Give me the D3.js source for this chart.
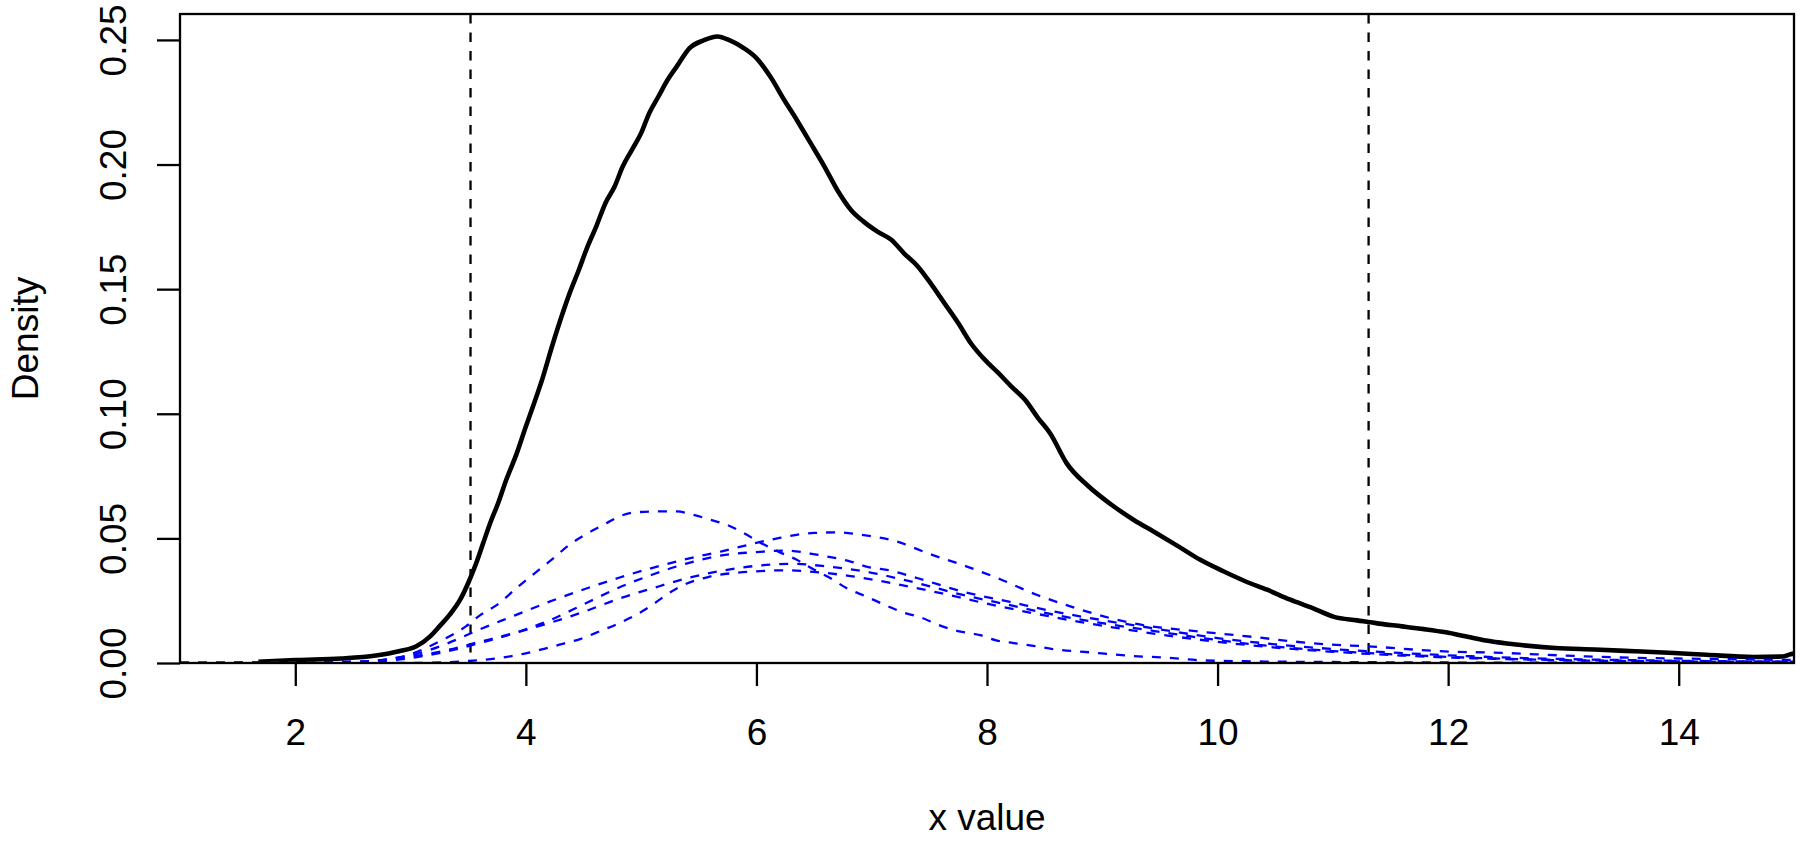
<!DOCTYPE html>
<html>
<head>
<meta charset="utf-8">
<script src="https://cdn.jsdelivr.net/npm/d3@7"></script>
<style>
  html, body { margin: 0; padding: 0; background: #ffffff; }
  svg { display: block; }
  text { font-family: "Liberation Sans", Arial, Helvetica, sans-serif; fill: #000; }
</style>
</head>
<body>
<svg id="chart" width="1800" height="843"></svg>
<script>
// ---------------- data ----------------
const xTicks = [2, 4, 6, 8, 10, 12, 14];
const xTickLabels = ["2", "4", "6", "8", "10", "12", "14"];
const yTicks = [0, 0.05, 0.10, 0.15, 0.20, 0.25];
const yTickLabels = ["0.00", "0.05", "0.10", "0.15", "0.20", "0.25"];
const xDomain = [1, 15];
const yDomain = [0, 0.2604];
const cutoffs = [3.52, 11.31];
const xLabel = "x value";
const yLabel = "Density";

// overall density (solid black)
const totalDensity = [
  [1.68,0.0005],[2.0,0.0012],[2.4,0.0018],[2.7,0.0030],[2.9,0.0047],[3.05,0.0067],
  [3.17,0.0107],[3.25,0.0147],[3.34,0.0194],[3.43,0.0254],[3.50,0.0321],[3.57,0.0401],
  [3.63,0.0481],[3.69,0.0561],[3.76,0.0642],[3.83,0.0735],[3.92,0.0840],[4.00,0.0949],
  [4.07,0.1040],[4.15,0.1150],[4.22,0.1260],[4.30,0.1377],[4.38,0.1484],[4.46,0.1578],
  [4.53,0.1665],[4.61,0.1751],[4.69,0.1845],[4.77,0.1912],[4.84,0.1992],[4.92,0.2059],
  [5.00,0.2126],[5.07,0.2206],[5.15,0.2273],[5.23,0.2340],[5.31,0.2394],[5.42,0.2467],
  [5.54,0.2498],[5.66,0.2514],[5.77,0.2498],[5.89,0.2467],[6.00,0.2427],[6.12,0.2353],
  [6.24,0.2260],[6.35,0.2179],[6.47,0.2086],[6.59,0.1992],[6.70,0.1899],[6.82,0.1818],
  [6.93,0.1771],[7.05,0.1731],[7.17,0.1698],[7.28,0.1644],[7.40,0.1591],[7.51,0.1524],
  [7.63,0.1444],[7.75,0.1364],[7.86,0.1283],[7.98,0.1217],[8.10,0.1163],[8.21,0.1110],
  [8.33,0.1056],[8.44,0.0985],[8.55,0.0920],[8.69,0.0802],[8.88,0.0709],[9.08,0.0635],
  [9.27,0.0575],[9.47,0.0521],[9.66,0.0468],[9.85,0.0414],[10.05,0.0368],[10.24,0.0328],
  [10.43,0.0294],[10.63,0.0254],[10.82,0.0221],[11.01,0.0185],[11.21,0.0171],[11.40,0.0158],
  [11.60,0.0147],[11.79,0.0136],[11.98,0.0123],[12.18,0.0104],[12.37,0.0087],[12.59,0.0074],
  [12.93,0.0060],[13.27,0.0054],[13.62,0.0047],[13.96,0.0040],[14.24,0.0033],[14.65,0.0024],
  [14.90,0.0026],[14.97,0.0035],[15.05,0.0040]
];

// component densities (dashed blue)
const componentA = [
  [1.0,0.0],[2.5,0.0003],[2.8,0.0015],[3.0,0.0035],[3.2,0.0075],[3.48,0.0147],[3.61,0.0194],
  [3.74,0.0230],[3.92,0.0301],[4.06,0.0354],[4.24,0.0421],[4.38,0.0475],[4.53,0.0519],
  [4.70,0.0561],[4.81,0.0588],[4.96,0.0605],[5.16,0.0608],[5.31,0.0608],[5.45,0.0595],
  [5.60,0.0575],[5.74,0.0555],[5.88,0.0524],[6.03,0.0484],[6.20,0.0445],[6.35,0.0414],
  [6.49,0.0377],[6.64,0.0341],[6.78,0.0301],[6.95,0.0267],[7.13,0.0230],[7.27,0.0203],
  [7.42,0.0184],[7.59,0.0151],[7.76,0.0127],[7.94,0.0112],[8.08,0.0091],[8.23,0.0080],
  [8.40,0.0069],[8.57,0.0056],[8.89,0.0043],[9.24,0.0029],[9.56,0.0021],[9.85,0.0011],
  [10.24,0.0007],[11.0,0.0004],[12.0,0.0002],[13.0,0.0001],[15.0,0.0]
];
const componentB = [
  [1.0,0.0],[2.5,0.0005],[2.8,0.0015],[3.0,0.0030],[3.3,0.0075],[3.6,0.0135],[3.9,0.0190],
  [4.2,0.0245],[4.5,0.0295],[4.8,0.0341],[5.1,0.0382],[5.4,0.0418],[5.7,0.0448],[6.0,0.0482],
  [6.2,0.0502],[6.5,0.0522],[6.7,0.0524],[6.9,0.0515],[7.2,0.0490],[7.5,0.0438],[7.82,0.0388],
  [8.11,0.0337],[8.43,0.0274],[8.75,0.0223],[9.07,0.0180],[9.38,0.0150],[9.74,0.0131],
  [10.3,0.0105],[10.8,0.0080],[11.4,0.0064],[11.9,0.0048],[12.5,0.0040],[13.0,0.0030],
  [13.5,0.0022],[14.0,0.0018],[14.5,0.0015],[15.0,0.0012]
];
const componentC = [
  [1.0,0.0],[2.6,0.0004],[3.0,0.0020],[3.3,0.0045],[3.6,0.0080],[3.9,0.0120],[4.2,0.0170],
  [4.5,0.0235],[4.8,0.0301],[5.1,0.0355],[5.4,0.0400],[5.7,0.0432],[6.0,0.0445],[6.26,0.0451],
  [6.48,0.0438],[6.64,0.0425],[6.81,0.0408],[6.97,0.0385],[7.13,0.0374],[7.4,0.0340],
  [7.8,0.0285],[8.2,0.0245],[8.6,0.0205],[9.0,0.0172],[9.5,0.0135],[10.0,0.0100],[10.5,0.0075],
  [11.0,0.0056],[11.6,0.0040],[12.2,0.0027],[13.0,0.0016],[14.0,0.0009],[15.0,0.0005]
];
const componentD = [
  [1.0,0.0],[2.6,0.0006],[3.0,0.0025],[3.3,0.0050],[3.6,0.0085],[3.9,0.0120],[4.2,0.0160],
  [4.5,0.0205],[4.8,0.0257],[5.1,0.0300],[5.4,0.0340],[5.7,0.0370],[6.0,0.0390],[6.3,0.0398],
  [6.6,0.0388],[7.0,0.0362],[7.4,0.0320],[7.8,0.0272],[8.2,0.0232],[8.6,0.0192],[9.0,0.0160],
  [9.5,0.0125],[10.0,0.0092],[10.5,0.0066],[11.0,0.0048],[11.6,0.0033],[12.2,0.0021],
  [13.0,0.0011],[14.0,0.0006],[15.0,0.0003]
];
const componentF = [
  [1.0,0.0],[3.0,0.0],[3.5,0.0008],[3.77,0.0020],[3.98,0.0037],[4.15,0.0056],[4.32,0.0077],
  [4.47,0.0096],[4.64,0.0127],[4.81,0.0160],[4.96,0.0194],[5.10,0.0234],[5.22,0.0274],
  [5.34,0.0307],[5.58,0.0345],[5.80,0.0361],[6.0,0.0368],[6.24,0.0372],[6.46,0.0367],
  [6.8,0.0350],[7.2,0.0318],[7.6,0.0280],[8.0,0.0238],[8.4,0.0200],[8.8,0.0165],[9.2,0.0135],
  [9.6,0.0108],[10.0,0.0085],[10.5,0.0062],[11.0,0.0045],[11.6,0.0030],[12.2,0.0019],
  [13.0,0.0012],[14.0,0.0007],[15.0,0.0005]
];
const components = [componentA, componentB, componentC, componentD, componentF];

// ---------------- layout ----------------
const W = 1800, H = 843;
const plot = { left: 180, right: 1794, top: 14, bottom: 663 };
const FONT = 37;
const LW = 2.3;

const svg = d3.select("#chart");
const x = d3.scaleLinear().domain(xDomain).range([plot.left, plot.right]);
const y = d3.scaleLinear().domain(yDomain).range([plot.bottom, plot.top]);

svg.append("defs").append("clipPath").attr("id", "clip")
  .append("rect")
  .attr("x", plot.left).attr("y", plot.top)
  .attr("width", plot.right - plot.left).attr("height", plot.bottom - plot.top);

const g = svg.append("g").attr("clip-path", "url(#clip)");

// vertical cutoff lines
g.selectAll("line.cut").data(cutoffs).enter().append("line")
  .attr("class", "cut")
  .attr("x1", d => x(d)).attr("x2", d => x(d))
  .attr("y1", plot.top).attr("y2", plot.bottom)
  .attr("stroke", "#000").attr("stroke-width", LW)
  .attr("stroke-dasharray", "9.5,9");

const line = d3.line().x(d => x(d[0])).y(d => y(d[1])).curve(d3.curveMonotoneX);

// overall density
g.append("path").datum(totalDensity)
  .attr("d", line)
  .attr("fill", "none").attr("stroke", "#000").attr("stroke-width", 4.6)
  .attr("stroke-linejoin", "round");

// components
g.selectAll("path.comp").data(components).enter().append("path")
  .attr("class", "comp")
  .attr("d", line)
  .attr("fill", "none").attr("stroke", "#0000ff").attr("stroke-width", LW)
  .attr("stroke-dasharray", "9,9");

// box
svg.append("rect")
  .attr("x", plot.left).attr("y", plot.top)
  .attr("width", plot.right - plot.left).attr("height", plot.bottom - plot.top)
  .attr("fill", "none").attr("stroke", "#000").attr("stroke-width", LW);

// x axis
const xAxis = d3.axisBottom(x).tickValues(xTicks)
  .tickFormat((d, i) => xTickLabels[i]).tickSize(23).tickPadding(0);
const gx = svg.append("g").attr("transform", `translate(0,${plot.bottom})`).call(xAxis);
gx.select(".domain").remove();
gx.selectAll(".tick line").attr("stroke", "#000").attr("stroke-width", LW);
gx.selectAll(".tick text")
  .attr("font-size", FONT).attr("dy", null).attr("y", 82)
  .attr("font-family", '"Liberation Sans", Arial, sans-serif');

// y axis
const yAxis = d3.axisLeft(y).tickValues(yTicks)
  .tickFormat((d, i) => yTickLabels[i]).tickSize(23).tickPadding(0);
const gy = svg.append("g").attr("transform", `translate(${plot.left},0)`).call(yAxis);
gy.select(".domain").remove();
gy.selectAll(".tick line").attr("stroke", "#000").attr("stroke-width", LW);
gy.selectAll(".tick text")
  .attr("font-size", FONT)
  .attr("font-family", '"Liberation Sans", Arial, sans-serif')
  .attr("x", null).attr("dy", null)
  .attr("text-anchor", "middle")
  .attr("transform", `translate(${126 - plot.left},0) rotate(-90)`);

// axis titles
svg.append("text")
  .attr("x", (plot.left + plot.right) / 2).attr("y", 830)
  .attr("text-anchor", "middle").attr("font-size", FONT)
  .text(xLabel);
svg.append("text")
  .attr("transform", `translate(38,${(plot.top + plot.bottom) / 2}) rotate(-90)`)
  .attr("text-anchor", "middle").attr("font-size", FONT)
  .text(yLabel);
</script>
</body>
</html>
